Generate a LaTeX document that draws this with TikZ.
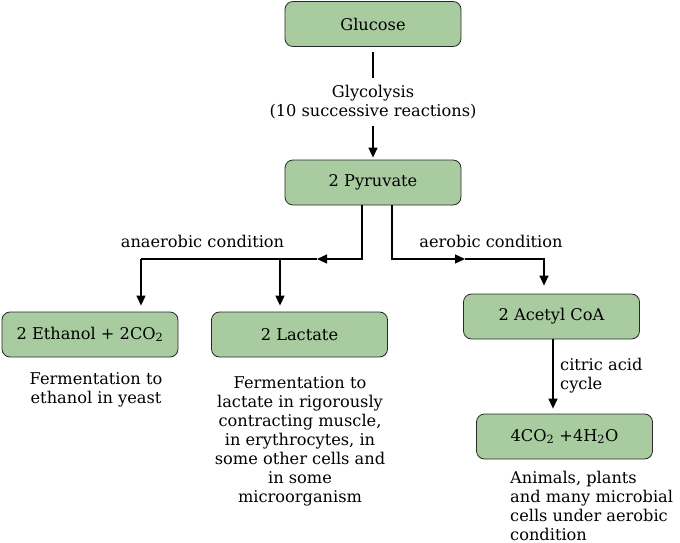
\documentclass[tikz,border=0pt]{standalone}
\usepackage{fontspec}
\setmainfont{DejaVu Serif}
\usetikzlibrary{arrows.meta,positioning}
\definecolor{boxgreen}{RGB}{168,204,160}
\definecolor{boxline}{RGB}{40,40,40}

\begin{document}
\begin{tikzpicture}[x=1pt,y=-1pt,
    stage/.style={draw=boxline, fill=boxgreen, rounded corners=8pt, line width=0.8pt,
        minimum width=176pt, minimum height=45pt, font=\fontsize{16.2}{19}\selectfont},
    note/.style={align=center, inner sep=0pt, font=\fontsize{16.2}{19}\selectfont},
    flow/.style={line width=1.3pt},
    tip/.style={flow, -{Triangle[length=10pt,width=9pt]}}]
    \useasboundingbox (0,0) rectangle (680,543);

    % boxes
    \node[stage] (glucose) at (373,24) {Glucose};
    \node[stage] (pyruvate) at (373,182.5) {2 Pyruvate};
    \node[stage] (ethanol) at (90,334.5) {2 Ethanol + 2CO\textsubscript{2}};
    \node[stage] (lactate) at (299.5,334.5) {2 Lactate};
    \node[stage] (acetyl) at (551.5,316.5) {2 Acetyl CoA};
    \node[stage] (water) at (564.5,436.5) {4CO\textsubscript{2} +4H\textsubscript{2}O};

    % labels
    \node[note, inner ysep=7pt] (glycolysis) at (373,102) {Glycolysis\\(10 successive reactions)};
    \node[note] (anaerobic) at (202.5,241) {anaerobic condition};
    \node[note] (aerobic) at (491,241) {aerobic condition};
    \node[note, align=left, anchor=west] (citric) at (560,376) {citric acid\\cycle};
    \node[note] (yeast) at (96,390) {Fermentation to\\ethanol in yeast};
    \node[note] (muscle) at (300,441) {Fermentation to\\lactate in rigorously\\contracting muscle,\\in erythrocytes, in\\some other cells and\\in some\\microorganism};
    \node[note, align=left, anchor=west] (animals) at (510,506) {Animals, plants\\and many microbial\\cells under aerobic\\condition};

    % junctions
    \coordinate (leftknee) at (362,259);
    \coordinate (leftmid) at (317,259);
    \coordinate (lactatejoin) at (280,259);
    \coordinate (leftend) at (141,259);
    \coordinate (rightknee) at (392,259);
    \coordinate (rightmid) at (465,259);
    \coordinate (rightend) at (544,259);

    % connectors
    \draw[flow] ([yshift=-5pt]glucose.south) -- (glycolysis.north);
    \draw[tip] (glycolysis.south) -- ([yshift=2pt]pyruvate.north);

    \draw[tip] (pyruvate.south -| leftknee) -- (leftknee) -- (leftmid);
    \draw[flow] (leftmid) -- (leftend);
    \draw[tip] (leftend) -- ([yshift=6pt]ethanol.north -| leftend);
    \draw[tip] (lactatejoin) -- ([yshift=6pt]lactate.north -| lactatejoin);

    \draw[tip] (pyruvate.south -| rightknee) -- (rightknee) -- (rightmid);
    \draw[tip] (rightmid) -- (rightend) -- ([yshift=8pt]acetyl.north -| rightend);

    \draw[tip] ([xshift=1.5pt]acetyl.south) -- ([xshift=1.5pt,yshift=5pt]water.north -| acetyl.south);
\end{tikzpicture}
\end{document}
